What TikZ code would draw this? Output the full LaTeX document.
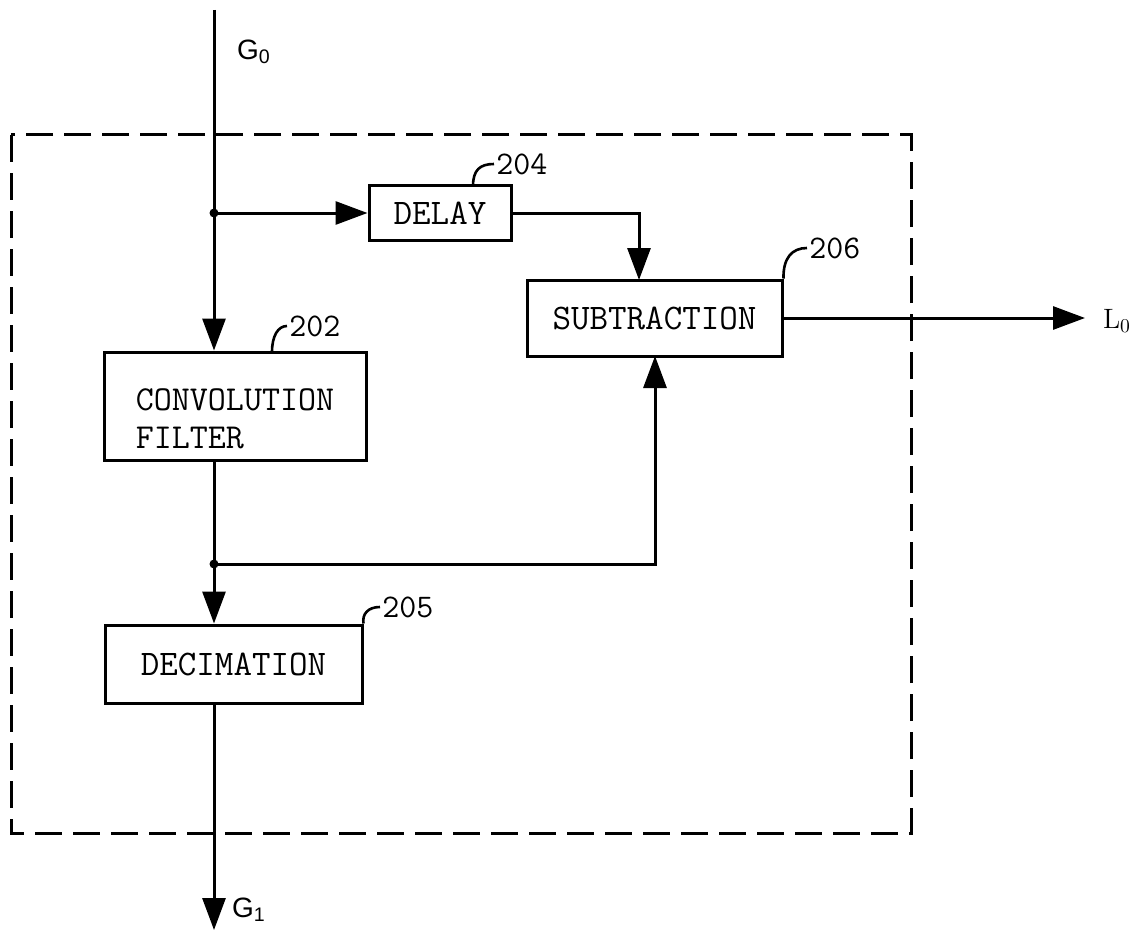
\documentclass[tikz,border=0pt]{standalone}
\usepackage{fontspec}
\setsansfont{Liberation Sans}
\usetikzlibrary{arrows.meta,positioning}
\definecolor{linecolor}{RGB}{0,0,0}
\tikzset{
boxtext/.style={
  font=\ttfamily\fontsize{18}{16}\selectfont,
  text=linecolor
},
block/.style={
  draw=linecolor,
  line width=1.5pt,
  inner sep=0pt,
  boxtext
},
refnum/.style={
  font=\ttfamily\fontsize{16.5}{16}\selectfont,
  anchor=west,
  inner sep=1pt
},
signal/.style={
  font=\sffamily\fontsize{14}{14}\selectfont
},
arrow/.style={
  -{Triangle[length=16pt,width=11.5pt]},
  line width=1.5pt,
  draw=linecolor
},
wire/.style={
  line width=1.5pt,
  draw=linecolor
},
leader/.style={
  line width=1.3pt,
  draw=linecolor
},
frame/.style={
  draw=linecolor,
  line width=1.5pt,
  dash pattern=on 13.5pt off 5.5pt
},
junction/.style={
  circle,
  fill=linecolor,
  inner sep=0pt,
  minimum size=4.5pt
}
}

\begin{document}
\begin{tikzpicture}[x=0.5pt,y=-0.5pt]
  \useasboundingbox (0,0) rectangle (1135,931);

  % dashed module outline
  \draw[frame] (11,135) rectangle (911,833);

  % blocks
  \node[block, minimum width=71pt, minimum height=27.5pt] (delay) at (440,213) {DELAY};
  \node[block, minimum width=127.5pt, minimum height=38pt] (sub) at (654.5,318) {SUBTRACTION};
  \node[block, minimum width=131pt, minimum height=54pt, align=left,
    font=\ttfamily\fontsize{17.5}{19}\selectfont] (conv) at (235,406)
    {\rule{0pt}{24pt}CONVOLUTION\\FILTER};
  \node[block, minimum width=128.5pt, minimum height=39pt] (dec) at (233.5,664) {DECIMATION};

  % reference numbers
  \node[refnum] (n204) at (494,164) {204};
  \node[refnum] (n206) at (807,248) {206};
  \node[refnum] (n202) at (287,326) {202};
  \node[refnum] (n205) at (380,607) {205};
  \draw[leader] (473,186) .. controls (473,170) and (480,164) .. (n204.west);
  \draw[leader] (sub.north east) .. controls (783,258) and (792,248) .. (n206.west);
  \draw[leader] (272,352) .. controls (272,336) and (278,326) .. (n202.west);
  \draw[leader] (dec.north east) .. controls (362,614) and (368,607) .. (n205.west);

  % signals
  \coordinate (gin) at (214,10);
  \coordinate (jtop) at (delay.west -| gin);
  \coordinate (jbot) at (214,564);
  \coordinate (subin) at (639,280);
  \coordinate (subfb) at (655,356);
  \coordinate (lout) at (1085,318);
  \coordinate (gout) at (214,930);
  \node[signal] (g0) at (254,52) {G\textsubscript{0}};
  \node[signal] (g1) at (249,910) {G\textsubscript{1}};
  \node[font=\rmfamily\fontsize{14}{14}\selectfont] (l0) at (1117,321) {L\textsubscript{0}};

  % connectors
  \draw[arrow] (gin) -- (conv.north -| gin);
  \draw[arrow] (jtop) -- (delay.west);
  \draw[arrow] (delay.east) -| (subin);
  \draw[wire] (conv.south -| jbot) -- (jbot);
  \draw[arrow] (jbot) -- (dec.north -| jbot);
  \draw[arrow] (jbot) -| (subfb);
  \draw[arrow] (sub.east) -- (lout);
  \draw[arrow] (dec.south -| gout) -- (gout);
  \node[junction] at (jtop) {};
  \node[junction] at (jbot) {};
\end{tikzpicture}
\end{document}
